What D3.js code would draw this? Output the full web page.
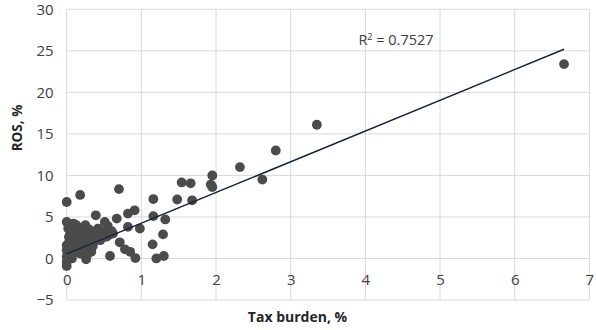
<!DOCTYPE html>
<html>
<head>
<meta charset="utf-8">
<script src="https://cdn.jsdelivr.net/npm/d3@7"></script>
<style>
  html, body { margin: 0; padding: 0; background: #ffffff; }
  svg { display: block; }
  text { font-family: "Open Sans", "DejaVu Sans", sans-serif; }
</style>
</head>
<body>
<svg id="chart" width="596" height="330"></svg>
<script>
// Tax burden (%) of each company
const taxBurden = [
  0.00, 0.18, 0.70, 1.54, 1.66, 1.16, 1.48, 1.68, 0.00, 0.39,
  0.82, 0.91, 0.67, 1.16, 1.32, 0.98, 0.82, 1.29, 1.15, 0.71,
  0.78, 0.85, 0.92, 0.58, 1.20, 1.30, 0.26, 0.00, 2.32, 1.95,
  1.93, 1.95, 2.80, 2.62, 3.35, 6.66, 0.51, 0.09, 0.16, 0.22,
  0.36, 0.42, 0.49, 0.56, 0.45, 0.50, 0.00, 0.04, 0.00, 0.09,
  0.13, 0.18, 0.22, 0.27, 0.31, 0.36, 0.40, 0.04, 0.11, 0.18,
  0.00, 0.07, 0.22, 0.29, 0.27, 0.33, 0.05, 0.13, 0.20, 0.03,
  0.60, 0.30, 0.14, 0.00, 0.24, 0.45, 0.53, 0.35, 0.55, 0.62,
  0.08, 0.12, 0.02, 0.25
];
// Return on sales (%) of the same companies
const ros = [
  6.80, 7.65, 8.35, 9.15, 9.05, 7.15, 7.10, 7.00, 4.40, 5.20,
  5.40, 5.80, 4.80, 5.10, 4.70, 3.60, 3.80, 2.90, 1.70, 1.95,
  1.10, 0.80, 0.05, 0.30, 0.00, 0.30, -0.10, -0.90, 11.00, 10.00,
  8.90, 8.60, 13.00, 9.50, 16.10, 23.40, 4.40, 4.20, 3.60, 3.40,
  3.20, 3.60, 3.20, 2.80, 2.80, 3.00, 1.60, 2.20, 1.00, 1.40,
  2.00, 1.40, 1.80, 2.20, 2.40, 2.00, 2.60, 0.60, 0.80, 0.60,
  0.20, 0.00, 1.00, 1.20, 0.40, 0.80, 3.00, 4.00, 3.00, 2.60,
  3.30, 3.50, 2.60, -0.40, 2.80, 2.20, 2.60, 1.50, 3.90, 3.00,
  3.40, 2.30, 3.60, 4.00
];
// Linear trend line: [intercept, slope] and its coefficient of determination
const trendCoef = [0.55, 3.7];
const rSquared = [0.7527];

const xTicks = [0, 1, 2, 3, 4, 5, 6, 7];
const yTicks = [-5, 0, 5, 10, 15, 20, 25, 30];

const svg = d3.select("#chart");
const plotLeft = 66.7, plotRight = 589.4, plotTop = 9.3, plotBottom = 300;

const x = d3.scaleLinear().domain([0, 7]).range([plotLeft, plotRight]);
const y = d3.scaleLinear().domain([-5, 30]).range([plotBottom, plotTop]);

// Gridlines
const grid = svg.append("g").attr("stroke", "#d9d9d9").attr("stroke-width", 1);
grid.selectAll("line.v").data(xTicks).join("line")
  .attr("x1", d => x(d)).attr("x2", d => x(d))
  .attr("y1", plotTop).attr("y2", plotBottom);
grid.selectAll("line.h").data(yTicks).join("line")
  .attr("x1", plotLeft).attr("x2", plotRight)
  .attr("y1", d => y(d)).attr("y2", d => y(d));

// Y axis tick labels
const yAxis = d3.axisLeft(y).tickValues(yTicks).tickFormat(d3.format("d"))
  .tickSize(0).tickPadding(13);
svg.append("g").attr("transform", `translate(${plotLeft},0)`).call(yAxis)
  .call(g => g.select(".domain").remove())
  .call(g => g.selectAll("text")
    .attr("fill", "#404040").style("font-size", "15px")
    .style("font-family", '"Open Sans", sans-serif'));

// X axis tick labels, hanging below the zero line
const xAxis = d3.axisBottom(x).tickValues(xTicks).tickFormat(d3.format("d"))
  .tickSize(0).tickPadding(16);
svg.append("g").attr("transform", `translate(0,${y(0)})`).call(xAxis)
  .call(g => g.select(".domain").remove())
  .call(g => g.selectAll("text")
    .attr("fill", "#404040").style("font-size", "15px")
    .style("font-family", '"Open Sans", sans-serif'));

// Data points
const pts = taxBurden.map((t, i) => [t, ros[i]]);
svg.append("g").selectAll("circle").data(pts).join("circle")
  .attr("cx", d => x(d[0])).attr("cy", d => y(d[1]))
  .attr("r", 4.9).attr("fill", "#4b4b4b");

// Trend line across the range of tax burden
const xExt = d3.extent(taxBurden);
const trend = xExt.map(v => [v, trendCoef[0] + trendCoef[1] * v]);
svg.append("path")
  .datum(trend)
  .attr("d", d3.line().x(d => x(d[0])).y(d => y(d[1])))
  .attr("fill", "none").attr("stroke", "#12233d").attr("stroke-width", 1.5);

// R² annotation
const r2 = svg.append("text")
  .attr("x", 396).attr("y", 44.5).attr("text-anchor", "middle")
  .attr("fill", "#404040").style("font-size", "14.5px");
r2.append("tspan").text("R");
r2.append("tspan").text("2").attr("dy", -5).style("font-size", "9px");
r2.append("tspan").text(" = " + rSquared[0].toFixed(4)).attr("dy", 5);

// Axis titles
svg.append("text")
  .attr("x", 297.5).attr("y", 322).attr("text-anchor", "middle")
  .attr("fill", "#262626").style("font-size", "14px").style("font-weight", "bold")
  .text("Tax burden, %");
svg.append("text")
  .attr("transform", "translate(22,128) rotate(-90)").attr("text-anchor", "middle")
  .attr("fill", "#262626").style("font-size", "13.5px").style("font-weight", "bold")
  .text("ROS, %");
</script>
</body>
</html>
